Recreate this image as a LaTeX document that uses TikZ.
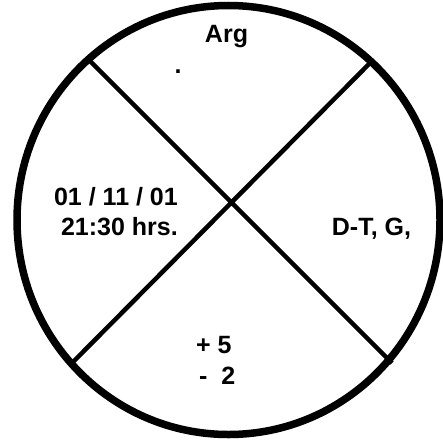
\documentclass[tikz,border=0pt]{standalone}
\usepackage{fontspec}
\setmainfont{Liberation Sans}
\begin{document}
\begin{tikzpicture}[x=1pt,y=-1pt,every node/.style={font=\bfseries\fontsize{25}{30}\selectfont,inner sep=0pt}]
\useasboundingbox (0,0) rectangle (443,439);
\coordinate (ul) at (90,61);
\coordinate (ur) at (372,61);
\coordinate (ll) at (72,363);
\coordinate (lr) at (392,363);
\node[anchor=base] (arg) at (226.5,42) {Arg};
\node[anchor=base] (dot) at (178,73) {.};
\node[anchor=base east] (date) at (178,205) {01 / 11 / 01};
\node[anchor=base east] (time) at (178,235) {21:30 hrs.};
\node[anchor=base] (dtg) at (371.5,235) {D-T, G,};
\node[anchor=base west] (plus) at (196,353) {+ 5};
\node[anchor=base west] (minus) at (199,384) {-\ \ 2};
\draw[line width=7.5pt] (228.5,220) ellipse [x radius=211.5pt, y radius=214.5pt];
\draw[line width=4.5pt] (ul) -- (lr) (ur) -- (ll);
\end{tikzpicture}
\end{document}
